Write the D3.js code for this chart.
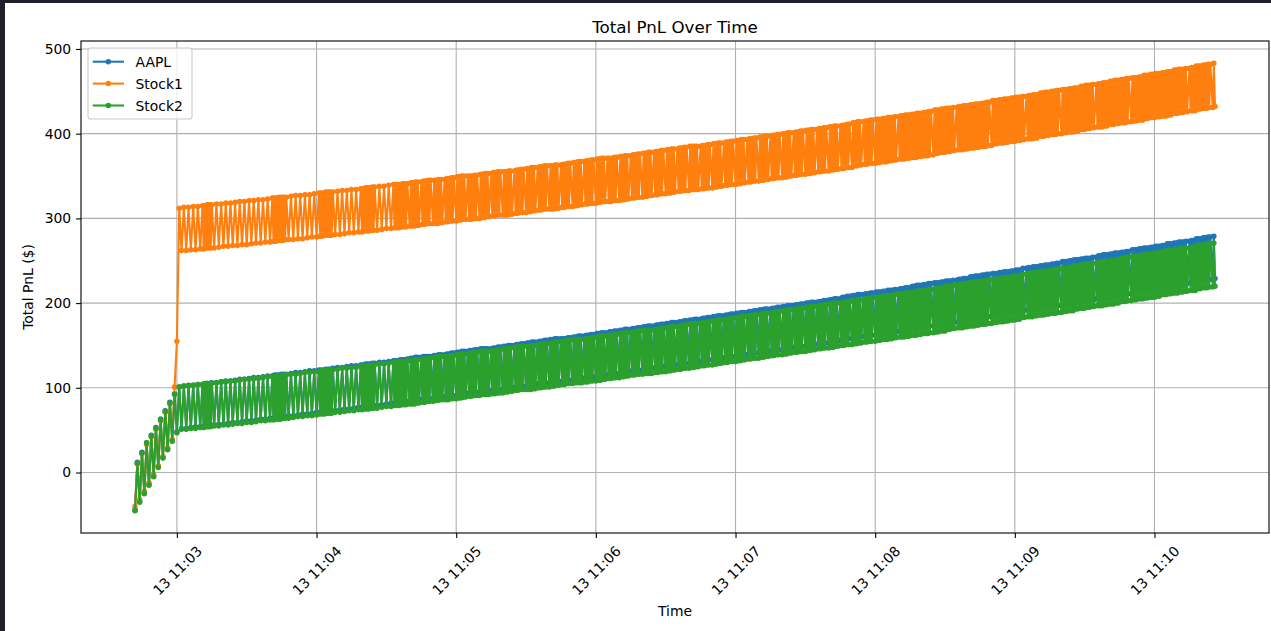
<!DOCTYPE html>
<html>
<head>
<meta charset="utf-8">
<script src="https://cdn.jsdelivr.net/npm/d3@7"></script>
<style>
  html, body { margin: 0; padding: 0; background: #fff; }
  svg { display: block; font-family: "DejaVu Sans", sans-serif; }
</style>
</head>
<body>
<svg id="chart" width="1271" height="631"></svg>
<script>
// sample times, seconds relative to 11:03:00 on the 13th
const baseTime = new Date(2025, 0, 13, 11, 3, 0);
const tSec = [
  -18,-17,-16,-15,-14,-13,-12,-11,-10,-9,-8,-7,-6,-5,-4,-3,-2,-1,0,
  1,2,3,4,5,6,7,8,9,10,
  11,11.5,12,12.5,13,13.5,14,14.5,15,
  16,17,18,19,20,21,22,23,24,25,26,27,28,29,30,31,32,33,34,35,36,37,38,39,40,
  41,41.5,42,42.5,43,43.5,44,44.5,45,45.5,46,46.5,47,
  48,49,50,51,52,53,54,55,56,57,58,59,60,
  61,61.5,62,62.5,63,63.5,64,64.5,65,65.5,66,66.5,67,
  68,69,70,71,72,73,74,75,76,77,78,
  79,79.5,80,80.5,81,81.5,82,82.5,83,83.5,84,84.5,85,
  86,87,88,89,90,91,92,
  93,93.5,94,94.5,95,95.5,96,96.5,97,97.5,98,98.5,99,
  100,
  100.5,101,101.5,102,102.5,103,103.5,104,105,
  105.5,106,106.5,107,107.5,108,108.5,109,110,
  110.5,111,111.5,112,112.5,113,113.5,114,115,
  115.5,116,116.5,117,117.5,118,118.5,119,120,
  120.5,121,121.5,122,122.5,123,123.5,124,125,
  125.5,126,126.5,127,127.5,128,128.5,129,130,
  130.5,131,131.5,132,132.5,133,133.5,134,135,
  135.5,136,136.5,137,137.5,138,138.5,139,140,
  140.5,141,141.5,142,142.5,143,143.5,144,145,
  145.5,146,146.5,147,147.5,148,148.5,149,150,
  150.5,151,151.5,152,152.5,153,153.5,154,155,
  155.5,156,156.5,157,157.5,158,158.5,159,160,
  160.5,161,161.5,162,162.5,163,163.5,164,165,
  165.5,166,166.5,167,167.5,168,168.5,169,170,
  170.5,171,171.5,172,172.5,173,173.5,174,175,
  175.5,176,176.5,177,177.5,178,178.5,179,180,
  180.5,181,181.5,182,182.5,183,183.5,184,185,
  185.5,186,186.5,187,187.5,188,188.5,189,190,
  190.5,191,191.5,192,192.5,193,193.5,194,195,
  195.5,196,196.5,197,197.5,198,198.5,199,200,
  200.5,201,201.5,202,202.5,203,203.5,204,205,
  205.5,206,206.5,207,207.5,208,208.5,209,210,
  210.5,211,211.5,212,212.5,213,213.5,214,215,
  215.5,216,216.5,217,217.5,218,218.5,219,220,
  220.5,221,221.5,222,222.5,223,223.5,224,225,
  225.5,226,226.5,227,227.5,228,228.5,229,230,
  230.5,231,231.5,232,232.5,233,233.5,234,235,
  235.5,236,236.5,237,237.5,238,238.5,239,240,
  240.5,241,241.5,242,242.5,243,243.5,244,245,
  245.5,246,246.5,247,247.5,248,248.5,249,250,
  250.5,251,251.5,252,252.5,253,253.5,254,255,
  255.5,256,256.5,257,257.5,258,258.5,259,260,
  260.5,261,261.5,262,262.5,263,263.5,264,265,
  265.5,266,266.5,267,267.5,268,268.5,269,270,
  270.5,271,271.5,272,272.5,273,273.5,274,275,
  275.5,276,276.5,277,277.5,278,278.5,279,280,
  280.5,281,281.5,282,282.5,283,283.5,284,285,
  285.5,286,286.5,287,287.5,288,288.5,289,290,
  290.5,291,291.5,292,292.5,293,293.5,294,295,
  295.5,296,296.5,297,297.5,298,298.5,299,300,
  300.5,301,301.5,302,302.5,303,303.5,304,304.5,305,
  305.5,306,306.5,307,307.5,308,308.5,309,310,
  310.5,311,311.5,312,312.5,313,313.5,314,314.5,315,
  315.5,316,316.5,317,317.5,318,318.5,319,319.5,320,
  320.5,321,321.5,322,322.5,323,323.5,324,325,
  325.5,326,326.5,327,327.5,328,328.5,329,329.5,330,
  330.5,331,331.5,332,332.5,333,333.5,334,335,
  335.5,336,336.5,337,337.5,338,338.5,339,339.5,340,
  340.5,341,341.5,342,342.5,343,343.5,344,344.5,345,
  345.5,346,346.5,347,347.5,348,348.5,349,350,
  350.5,351,351.5,352,352.5,353,353.5,354,354.5,355,
  355.5,356,356.5,357,357.5,358,358.5,359,359.5,360,
  360.5,361,361.5,362,362.5,363,363.5,364,365,
  365.5,366,366.5,367,367.5,368,368.5,369,369.5,370,
  370.5,371,371.5,372,372.5,373,373.5,374,374.5,375,
  375.5,376,376.5,377,377.5,378,378.5,379,380,
  380.5,381,381.5,382,382.5,383,383.5,384,384.5,385,
  385.5,386,386.5,387,387.5,388,388.5,389,389.5,390,
  390.5,391,391.5,392,392.5,393,393.5,394,395,
  395.5,396,396.5,397,397.5,398,398.5,399,399.5,400,
  400.5,401,401.5,402,402.5,403,403.5,404,404.5,405,
  405.5,406,406.5,407,407.5,408,408.5,409,410,
  410.5,411,411.5,412,412.5,413,413.5,414,414.5,415,
  415.5,416,416.5,417,417.5,418,418.5,419,419.5,420,
  420.5,421,421.5,422,422.5,423,423.5,424,424.5,425,
  425.5,426,426.5,427,427.5,428,428.5,429,429.5,430,
  430.5,431,431.5,432,432.5,433,433.5,434,435,
  435.5,436,436.5,437,437.5,438,438.5,439,439.5,440,
  440.5,441,441.5,442,442.5,443,443.5,444,445,
  445.5,446
];

const aaplPnl = [
  -44,12,-34,24,-24,35,-14,44,-4,53,7,63,18,73,28,83,38,93,48,
  101,52,102,52,103,53,103,54,104,54,
  104,55,105,55,105,55,105,56,106,
  56,106,57,107,57,108,58,108,59,109,59,110,60,110,61,111,61,112,62,112,63,113,63,114,64,
  114,64,115,65,115,65,115,65,116,66,116,66,116,
  67,117,67,118,68,118,69,119,69,120,70,120,71,
  121,71,121,71,121,71,122,72,122,72,122,73,123,
  73,124,74,124,75,125,75,126,76,126,77,
  127,77,127,77,128,78,128,78,128,79,129,79,129,
  79,130,80,130,81,131,82,
  132,82,132,82,132,82,133,83,133,83,133,84,134,
  84,
  135,85,135,85,136,86,136,86,136,
  87,137,87,137,87,137,87,137,87,
  138,88,138,88,139,89,139,89,139,
  90,140,90,140,91,141,91,141,91,
  142,92,142,92,143,93,143,93,143,
  94,144,94,144,95,145,95,145,95,
  146,96,146,96,146,96,146,96,146,
  97,147,97,147,98,148,98,148,98,
  149,99,149,99,150,100,150,100,150,
  101,151,101,151,102,152,102,152,102,
  153,103,153,103,154,104,154,104,154,
  105,155,105,155,106,156,106,156,106,
  157,107,157,107,158,108,158,108,158,
  108,158,108,158,109,159,109,159,109,
  160,110,160,110,161,111,161,111,161,
  112,162,112,162,113,163,113,163,113,
  164,114,164,114,165,115,165,115,165,
  116,166,116,166,117,167,117,167,117,
  168,118,168,118,169,119,169,119,169,
  120,170,120,170,121,171,121,171,121,
  172,122,172,122,173,123,173,123,173,
  124,174,124,174,125,175,125,175,125,
  176,126,176,126,177,127,177,127,177,
  128,178,128,178,129,179,129,179,129,
  180,130,180,130,181,131,181,131,181,
  132,182,132,182,133,183,133,183,133,
  184,134,184,134,185,135,185,135,185,
  136,186,136,186,137,187,137,187,137,
  188,138,188,138,189,139,189,139,189,
  140,190,140,190,141,191,141,191,141,
  192,142,192,142,193,143,193,143,193,
  144,194,144,194,145,195,145,195,145,
  196,146,196,146,197,147,197,147,197,
  148,198,148,198,149,199,149,199,149,
  200,150,200,150,201,151,201,151,201,
  152,202,152,202,153,203,153,203,153,
  204,154,204,154,205,155,205,155,205,
  157,207,157,207,158,208,158,208,158,
  209,159,209,159,210,160,210,160,210,
  161,211,161,211,162,212,162,212,162,
  213,163,213,163,213,164,214,164,214,164,
  215,165,215,165,215,166,216,166,216,
  167,217,167,217,167,218,168,218,168,218,
  170,220,170,220,170,221,171,221,171,221,
  172,222,172,222,172,223,173,223,173,
  224,174,224,174,224,175,225,175,225,175,
  226,176,226,176,226,177,227,177,227,
  178,228,178,228,178,229,179,229,179,229,
  181,231,181,231,181,232,182,232,182,232,
  183,233,183,233,183,234,184,234,184,
  235,185,235,185,235,186,236,186,236,186,
  237,187,237,187,237,188,238,188,238,188,
  239,189,239,189,239,191,241,191,241,
  192,242,192,242,192,243,193,243,193,243,
  194,244,194,244,194,245,195,245,195,245,
  196,246,196,246,196,247,197,247,197,
  249,199,249,199,249,200,250,200,250,200,
  251,201,251,201,251,202,252,202,252,202,
  253,203,253,203,253,204,254,204,254,
  206,256,206,256,206,257,207,257,207,257,
  208,258,208,258,208,259,209,259,209,259,
  210,260,210,260,210,261,211,261,211,
  263,213,263,213,263,214,264,214,264,214,
  265,215,265,215,265,216,266,216,266,216,
  267,217,267,217,267,218,268,218,268,218,
  270,220,270,220,270,221,271,221,271,221,
  272,222,272,222,272,223,273,223,273,
  224,274,224,274,224,276,226,276,226,276,
  227,277,227,277,227,278,228,278,228,
  279,229
];

const stock1Pnl = [
  -40,10,-32,22,-22,33,-12,42,-2,51,8,61,19,71,29,81,39,101,155,
  312,262,313,262,313,263,314,263,314,264,
  315,264,315,265,316,265,316,265,316,
  265,317,266,317,267,318,267,318,268,319,268,320,269,320,269,321,270,321,271,322,271,322,272,323,272,
  324,273,324,273,324,274,325,274,325,274,325,275,325,
  275,326,275,327,276,327,276,328,277,328,278,329,278,
  330,279,330,279,330,280,331,280,331,280,331,280,331,
  281,332,281,333,282,333,283,334,283,334,284,
  335,284,335,285,336,285,336,285,336,286,337,286,337,
  286,338,287,338,288,339,288,
  340,289,340,289,340,289,340,290,341,290,341,290,341,
  291,
  342,291,342,291,343,292,343,292,343,
  293,344,293,344,294,345,294,345,294,
  345,294,345,294,346,295,346,295,346,
  296,347,296,347,297,348,297,348,297,
  349,298,349,298,350,299,350,299,350,
  299,350,299,350,300,351,300,351,300,
  352,301,352,301,353,302,353,302,353,
  303,354,303,354,304,355,304,355,304,
  355,304,355,304,356,305,356,305,356,
  306,357,306,357,307,358,307,358,307,
  359,308,359,308,360,309,360,309,360,
  310,361,310,361,311,362,311,362,311,
  362,311,362,311,363,312,363,312,363,
  313,364,313,364,314,365,314,365,314,
  366,315,366,315,367,316,367,316,367,
  317,368,317,368,318,369,318,369,318,
  370,319,370,319,371,320,371,320,371,
  320,371,320,371,321,372,321,372,321,
  373,322,373,322,374,323,374,323,374,
  324,375,324,375,325,376,325,376,325,
  377,326,377,326,378,327,378,327,378,
  328,379,328,379,329,380,329,380,329,
  381,330,381,330,382,331,382,331,382,
  332,383,332,383,333,384,333,384,333,
  385,334,385,334,385,334,385,334,385,
  335,386,335,386,336,387,336,387,336,
  388,337,388,337,389,338,389,338,389,
  339,390,339,390,340,391,340,391,340,
  392,341,392,341,393,342,393,342,393,
  343,394,343,394,344,395,344,395,344,
  396,345,396,345,397,346,397,346,397,
  347,398,347,398,348,399,348,399,348,
  400,349,400,349,401,350,401,350,401,
  351,402,351,402,352,403,352,403,352,
  404,353,404,353,405,354,405,354,405,
  355,406,355,406,356,407,356,407,356,
  408,357,408,357,409,358,409,358,409,
  359,410,359,410,360,411,360,411,360,
  413,362,413,362,414,363,414,363,414,
  364,415,364,415,365,416,365,416,365,
  417,366,417,366,417,367,418,367,418,367,
  419,368,419,368,419,369,420,369,420,
  370,421,370,421,370,422,371,422,371,422,
  372,423,372,423,372,424,373,424,373,424,
  374,425,374,425,374,426,375,426,375,
  428,377,428,377,428,378,429,378,429,378,
  430,379,430,379,430,380,431,380,431,
  381,432,381,432,381,433,382,433,382,433,
  383,434,383,434,383,435,384,435,384,435,
  385,436,385,436,385,437,386,437,386,
  439,388,439,388,439,389,440,389,440,389,
  441,390,441,390,441,391,442,391,442,391,
  443,392,443,392,443,393,444,393,444,
  394,445,394,445,394,446,395,446,395,446,
  397,448,397,448,397,449,398,449,398,449,
  399,450,399,450,399,451,400,451,400,
  452,401,452,401,452,402,453,402,453,402,
  454,403,454,403,454,405,456,405,456,405,
  457,406,457,406,457,407,458,407,458,
  408,459,408,459,408,460,409,460,409,460,
  411,462,411,462,411,463,412,463,412,463,
  413,464,413,464,413,465,414,465,414,
  466,415,466,415,466,416,467,416,467,416,
  469,418,469,418,469,419,470,419,470,419,
  471,420,471,420,471,421,472,421,472,421,
  473,422,473,422,473,424,475,424,475,424,
  476,425,476,425,476,426,477,426,477,
  427,478,427,478,427,480,429,480,429,480,
  430,481,430,481,430,482,431,482,431,
  483,432
];

const stock2Pnl = [
  -45,11,-35,23,-25,35,-15,43,-5,52,6,62,17,72,27,82,37,92,47,
  101,51,102,51,102,52,103,52,104,53,
  104,53,104,54,105,54,105,54,105,
  55,106,55,107,56,107,56,108,57,108,58,109,58,110,59,110,59,111,60,111,61,112,61,113,62,
  113,62,113,63,114,63,114,63,114,64,115,64,115,
  64,116,65,116,66,117,66,118,67,118,67,119,68,
  119,69,120,69,120,69,120,70,121,70,121,70,121,
  71,122,71,123,72,123,73,124,73,124,74,
  125,74,125,75,126,75,126,75,126,76,127,76,127,
  76,128,77,128,78,129,78,
  130,79,130,79,130,79,131,80,131,80,131,80,132,
  81,
  132,81,132,81,133,82,133,82,133,
  83,134,83,134,84,135,84,135,84,
  136,85,136,85,137,86,137,86,137,
  86,137,86,137,87,138,87,138,87,
  139,88,139,88,140,89,140,89,140,
  90,141,90,141,91,142,91,142,91,
  143,92,143,92,143,92,143,92,143,
  93,144,93,144,94,145,94,145,94,
  146,95,146,95,147,96,147,96,147,
  97,148,97,148,98,149,98,149,98,
  149,98,149,98,150,99,150,99,150,
  100,151,100,151,101,152,101,152,101,
  153,102,153,102,154,103,154,103,154,
  104,155,104,155,105,156,105,156,105,
  157,106,157,106,157,106,157,106,157,
  107,158,107,158,108,159,108,159,108,
  160,109,160,109,161,110,161,110,161,
  111,162,111,162,112,163,112,163,112,
  164,113,164,113,165,114,165,114,165,
  115,166,115,166,116,167,116,167,116,
  168,117,168,117,168,117,168,117,168,
  118,169,118,169,119,170,119,170,119,
  171,120,171,120,172,121,172,121,172,
  122,173,122,173,123,174,123,174,123,
  175,124,175,124,176,125,176,125,176,
  126,177,126,177,127,178,127,178,127,
  179,128,179,128,180,129,180,129,180,
  130,181,130,181,131,182,131,182,131,
  183,132,183,132,184,133,184,133,184,
  134,185,134,185,135,186,135,186,135,
  187,136,187,136,188,137,188,137,188,
  138,189,138,189,139,190,139,190,139,
  191,140,191,140,192,141,192,141,192,
  142,193,142,193,143,194,143,194,143,
  195,144,195,144,196,145,196,145,196,
  146,197,146,197,147,198,147,198,147,
  199,148,199,148,200,149,200,149,200,
  150,201,150,201,151,202,151,202,151,
  203,152,203,152,204,153,204,153,204,
  154,205,154,205,155,206,155,206,155,
  207,156,207,156,207,157,208,157,208,157,
  209,158,209,158,209,159,210,159,210,
  160,211,160,211,160,212,161,212,161,212,
  162,213,162,213,162,214,163,214,163,214,
  164,215,164,215,164,216,165,216,165,
  217,166,217,166,217,167,218,167,218,167,
  220,169,220,169,220,170,221,170,221,
  171,222,171,222,171,223,172,223,172,223,
  173,224,173,224,173,225,174,225,174,225,
  175,226,175,226,175,227,176,227,176,
  228,177,228,177,228,178,229,178,229,178,
  230,179,230,179,230,180,231,180,231,180,
  232,181,232,181,232,183,234,183,234,
  184,235,184,235,184,236,185,236,185,236,
  186,237,186,237,186,238,187,238,187,238,
  188,239,188,239,188,240,189,240,189,
  241,190,241,190,241,191,242,191,242,191,
  244,193,244,193,244,194,245,194,245,194,
  246,195,246,195,246,196,247,196,247,
  197,248,197,248,197,249,198,249,198,249,
  199,250,199,250,199,251,200,251,200,251,
  202,253,202,253,202,254,203,254,203,
  255,204,255,204,255,205,256,205,256,205,
  257,206,257,206,257,207,258,207,258,207,
  259,208,259,208,259,210,261,210,261,210,
  262,211,262,211,262,212,263,212,263,212,
  264,213,264,213,264,214,265,214,265,
  215,266,215,266,215,268,217,268,217,268,
  218,269,218,269,218,270,219,270,219,
  271,220
];

const seriesNames = ["AAPL", "Stock1", "Stock2"];
const seriesColors = ["#1f77b4", "#ff7f0e", "#2ca02c"];
const yTicks = [0, 100, 200, 300, 400, 500];

const width = 1271, height = 631;
const plot = { left: 81, right: 1269, top: 41, bottom: 533 };
const fontSize = 13.9;

const svg = d3.select("#chart");

svg.append("rect").attr("width", width).attr("height", height).attr("fill", "#fff");
// dark notebook frame showing at the top and left edges
svg.append("rect").attr("width", width).attr("height", 3).attr("fill", "#1f2029");
svg.append("rect").attr("width", 5).attr("height", height).attr("fill", "#1f2029");

const times = tSec.map(s => new Date(baseTime.getTime() + s * 1000));
const seriesValues = [aaplPnl, stock1Pnl, stock2Pnl];
seriesValues.forEach((v, i) => {
  if (v.length !== times.length) console.warn(seriesNames[i], v.length, times.length);
});

// 5% margins like matplotlib autoscale
const tExt = d3.extent(times);
const tPad = (tExt[1] - tExt[0]) * 0.05;
const x = d3.scaleTime()
  .domain([new Date(+tExt[0] - tPad), new Date(+tExt[1] + tPad)])
  .range([plot.left, plot.right]);

const yExt = d3.extent(seriesValues.flat());
const yPad = (yExt[1] - yExt[0]) * 0.05;
const y = d3.scaleLinear()
  .domain([yExt[0] - yPad, yExt[1] + yPad])
  .range([plot.bottom, plot.top]);

const xTicks = x.ticks(d3.timeMinute.every(1));

// grid
const grid = svg.append("g");
grid.selectAll(".gx").data(xTicks).join("line")
  .attr("x1", d => x(d)).attr("x2", d => x(d))
  .attr("y1", plot.top).attr("y2", plot.bottom)
  .attr("stroke", "#b0b0b0").attr("stroke-width", 1.1);
grid.selectAll(".gy").data(yTicks).join("line")
  .attr("x1", plot.left).attr("x2", plot.right)
  .attr("y1", d => y(d)).attr("y2", d => y(d))
  .attr("stroke", "#b0b0b0").attr("stroke-width", 1.1);

// data
svg.append("clipPath").attr("id", "plotClip")
  .append("rect")
  .attr("x", plot.left).attr("y", plot.top)
  .attr("width", plot.right - plot.left).attr("height", plot.bottom - plot.top);

const dataG = svg.append("g").attr("clip-path", "url(#plotClip)");
const line = d3.line()
  .x((d, i) => x(times[i]))
  .y(d => y(d));

seriesValues.forEach((vals, si) => {
  const g = dataG.append("g");
  g.append("path")
    .datum(vals)
    .attr("d", line)
    .attr("fill", "none")
    .attr("stroke", seriesColors[si])
    .attr("stroke-width", 2.08)
    .attr("stroke-linejoin", "round");
  g.selectAll("circle")
    .data(vals)
    .join("circle")
    .attr("cx", (d, i) => x(times[i]))
    .attr("cy", d => y(d))
    .attr("r", 2.08)
    .attr("fill", seriesColors[si])
    .attr("stroke", seriesColors[si])
    .attr("stroke-width", 1.39);
});

// axes
const xAxisG = svg.append("g")
  .attr("transform", `translate(0,${plot.bottom})`)
  .call(d3.axisBottom(x)
    .tickValues(xTicks)
    .tickFormat(d3.timeFormat("%d %H:%M"))
    .tickSizeInner(4.9)
    .tickSizeOuter(0));
xAxisG.select(".domain").remove();
xAxisG.selectAll("line").attr("stroke", "#000").attr("stroke-width", 1.1);
xAxisG.selectAll("text")
  .attr("font-family", "DejaVu Sans")
  .attr("font-size", fontSize)
  .attr("fill", "#000")
  .attr("y", null).attr("dy", null)
  .attr("text-anchor", "middle")
  .attr("dominant-baseline", "central")
  .each(function () {
    const len = this.getComputedTextLength();
    const boxH = (len + fontSize * 1.16) * Math.SQRT1_2;
    d3.select(this).attr("transform", `translate(0,${9.8 + boxH / 2}) rotate(-45)`);
  });

const yAxisG = svg.append("g")
  .attr("transform", `translate(${plot.left},0)`)
  .call(d3.axisLeft(y)
    .tickValues(yTicks)
    .tickSizeInner(4.9)
    .tickSizeOuter(0)
    .tickPadding(4.9));
yAxisG.select(".domain").remove();
yAxisG.selectAll("line").attr("stroke", "#000").attr("stroke-width", 1.1);
yAxisG.selectAll("text")
  .attr("font-family", "DejaVu Sans")
  .attr("font-size", fontSize)
  .attr("fill", "#000");

// spines
svg.append("rect")
  .attr("x", plot.left).attr("y", plot.top)
  .attr("width", plot.right - plot.left).attr("height", plot.bottom - plot.top)
  .attr("fill", "none").attr("stroke", "#000").attr("stroke-width", 1.1);

// title and labels
svg.append("text")
  .attr("x", (plot.left + plot.right) / 2).attr("y", 32.5)
  .attr("text-anchor", "middle")
  .attr("font-size", 16.7)
  .text("Total PnL Over Time");

svg.append("text")
  .attr("x", (plot.left + plot.right) / 2).attr("y", 616)
  .attr("text-anchor", "middle")
  .attr("font-size", fontSize)
  .text("Time");

svg.append("text")
  .attr("transform", `translate(33,${(plot.top + plot.bottom) / 2}) rotate(-90)`)
  .attr("text-anchor", "middle")
  .attr("font-size", fontSize)
  .text("Total PnL ($)");

// legend
const legend = svg.append("g");
legend.append("rect")
  .attr("x", 88).attr("y", 48)
  .attr("width", 104).attr("height", 71)
  .attr("rx", 2.8)
  .attr("fill", "#fff").attr("fill-opacity", 0.8)
  .attr("stroke", "#cccccc").attr("stroke-width", 1.1);

seriesNames.forEach((name, i) => {
  const ly = 61.7 + i * 21.9;
  legend.append("line")
    .attr("x1", 92.7).attr("x2", 124)
    .attr("y1", ly).attr("y2", ly)
    .attr("stroke", seriesColors[i]).attr("stroke-width", 2.08);
  legend.append("circle")
    .attr("cx", 108.3).attr("cy", ly).attr("r", 2.08)
    .attr("fill", seriesColors[i])
    .attr("stroke", seriesColors[i]).attr("stroke-width", 1.39);
  legend.append("text")
    .attr("x", 135.5).attr("y", ly)
    .attr("dominant-baseline", "central")
    .attr("font-size", fontSize)
    .text(name);
});
</script>
</body>
</html>
